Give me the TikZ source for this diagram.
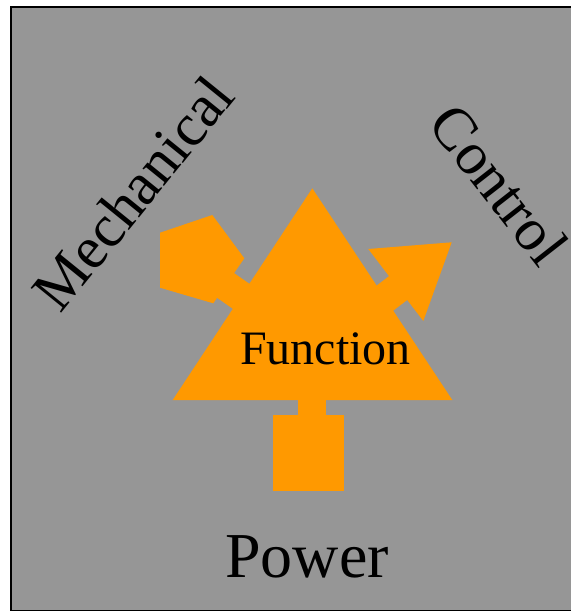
\documentclass[tikz,border=0pt]{standalone}
\usepackage{fontspec}
\setmainfont{Liberation Serif}
\definecolor{panelgray}{RGB}{150,150,150}
\definecolor{fnorange}{RGB}{255,153,0}
\begin{document}
\begin{tikzpicture}[x=0.75pt,y=-0.75pt,
  part/.style={fill=fnorange},
  biglabel/.style={font=\fontsize{48}{48}\selectfont, anchor=base, inner sep=0pt},
  sidelabel/.style={font=\fontsize{45}{45}\selectfont, anchor=base, inner sep=0pt},
  fnlabel/.style={font=\fontsize{36}{36}\selectfont, anchor=base, inner sep=0pt}]
\useasboundingbox (0,0) rectangle (571,611);
% panel
\draw[fill=panelgray, line width=1.6pt] (11,7) rectangle (573,611.5);
% mechanical port: pentagon and its stem
\fill[part] (160,232.7) -- (212.3,215) -- (244.3,258.3) -- (213.3,303.3) -- (160,287.7) -- cycle;
\fill[part, shift={(226.7,286.2)}, rotate=-35] (-20,-15) rectangle (55,15);
% control port: arrow head and its stem
\fill[part] (368.3,249) -- (451.7,242.3) -- (423.3,321) -- cycle;
\fill[part, shift={(384.7,298.3)}, rotate=37.4] (-40,-15) rectangle (25,15);
% power port: square and its stem
\fill[part] (297.7,395) rectangle (325.7,420);
\fill[part] (272.7,415) rectangle (344,490.7);
% function body
\fill[part] (312.3,188.3) -- (172.7,400) -- (452.3,400) -- cycle;
% labels
\node[fnlabel] (fn) at (325.5,364.3) {Function};
\node[biglabel] (pw) at (307,577.5) {Power};
\node[sidelabel, rotate=51] (mech) at (149,206) {Mechanical};
\node[sidelabel, rotate=-52] (ctl) at (483,197) {Control};
\end{tikzpicture}
\end{document}
